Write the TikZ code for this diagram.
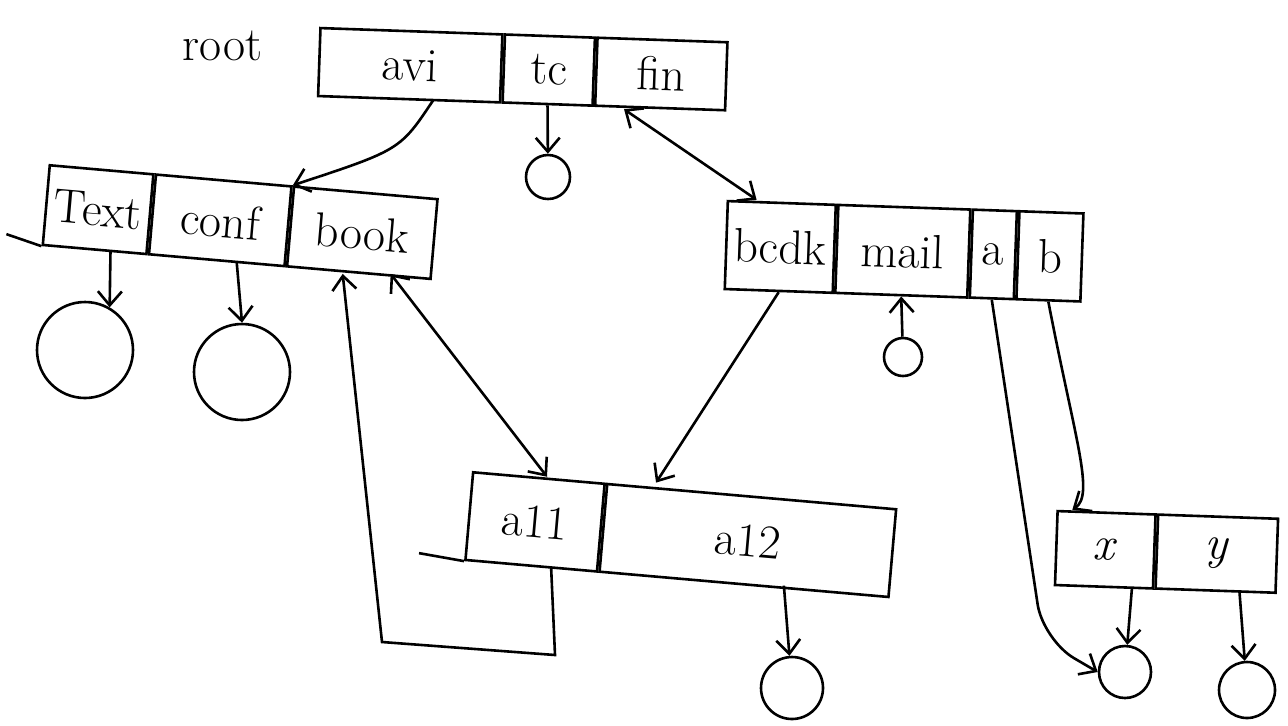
\documentclass[tikz,border=0pt]{standalone}
\usetikzlibrary{positioning, arrows.meta}

\tikzset{
  cell/.style={draw, inner sep=0pt, font=\fontsize{24}{28}\selectfont},
  rootrec/.style={cell, rotate=-2, minimum height=34pt},
  leftrec/.style={cell, rotate=-5, minimum height=40pt},
  rightrec/.style={cell, rotate=-2, minimum height=44pt},
  midrec/.style={cell, rotate=-5, minimum height=44pt},
  xyrec/.style={cell, rotate=-2, minimum height=37pt},
  nil/.style={draw, circle, inner sep=0pt},
}

\begin{document}
\begin{tikzpicture}[x=0.5pt, y=-0.5pt, line width=1.3pt,
  >={Straight Barb[length=7pt, width=12pt]}]

\useasboundingbox (0,0) rectangle (1288,725);

% Nodes

\node[rootrec, minimum width=91pt, anchor=west] (avi) at (318,62) {avi};
\node[rootrec, minimum width=45pt, right=0pt of avi] (tc) {tc};
\node[rootrec, minimum width=65pt, right=0pt of tc] (fin) {fin};
\node[left=24pt of avi, yshift=8pt, font=\fontsize{24}{28}\selectfont] (root) {root};

\node[leftrec, minimum width=52pt, anchor=west] (text) at (45,205) {Text};
\node[leftrec, minimum width=68pt, right=0pt of text] (conf) {conf};
\node[leftrec, minimum width=72pt, right=0pt of conf] (book) {book};

\node[rightrec, minimum width=54pt, anchor=west] (bcdk) at (725,245) {bcdk};
\node[rightrec, minimum width=66pt, right=0pt of bcdk] (mail) {mail};
\node[rightrec, minimum width=22pt, right=0pt of mail] (a) {a};
\node[rightrec, minimum width=32pt, right=0pt of a] (b) {b};

\node[midrec, minimum width=66pt, anchor=west] (a11) at (468,516) {a11};
\node[midrec, minimum width=145pt, right=0pt of a11] (a12) {a12};

\node[xyrec, minimum width=49pt, anchor=west] (x) at (1055,548) {\textit{x}};
\node[xyrec, minimum width=60pt, right=0pt of x] (y) {\textit{y}};

% null pointers
\node[nil, minimum size=22pt] (tcnil) at (548,177) {};
\node[nil, minimum size=48pt] (textnil) at (85,350) {};
\node[nil, minimum size=48pt] (confnil) at (242,372) {};
\node[nil, minimum size=19pt] (mailnil) at (903,357) {};
\node[nil, minimum size=31pt] (a12nil) at (792,688) {};
\node[nil, minimum size=26pt] (xnil) at (1125,672) {};
\node[nil, minimum size=28pt] (ynil) at (1247,690) {};

\coordinate (loopa) at (555,655);
\coordinate (loopb) at (382,642);
\coordinate (abend) at (1043,640);

% loose ends of the bottom lines
\draw (text.south west) -- ++(-35,-12);
\draw (a11.south west) -- ++(-45,-8);

% Edges

\draw[->] ([xshift=12pt]avi.south) .. controls (400,150) .. (conf.north east);
\draw[->] (tc.south) -- (tcnil);
\draw[<->] ([xshift=-18pt]fin.south) -- ([xshift=15pt]bcdk.north west);
\draw[->] ([xshift=8pt]text.south) -- (textnil.60);
\draw[->] ([xshift=10pt]conf.south) -- (confnil.north);
\draw[<-] ([xshift=-8pt]book.south) -- (loopb) -- (loopa) -- ([xshift=10pt]a11.south);
\draw[<->] ([xshift=16pt]book.south) -- ([xshift=4pt]a11.north);
\draw[->] (bcdk.south) -- ([xshift=25pt]a12.north west);
\draw[<-] (mail.south) -- (mailnil);
\draw[->, rounded corners=18pt] (a.south) -- (abend) -- (xnil.west);
\draw[->] (b.south) .. controls (1075,440) and (1095,495) .. ([xshift=8pt]x.north west);
\draw[->] ([xshift=14pt]x.south) -- (xnil);
\draw[->] ([xshift=12pt]y.south) -- (ynil);
\draw[->] ([xshift=20pt]a12.south) -- (a12nil);

\end{tikzpicture}
\end{document}
